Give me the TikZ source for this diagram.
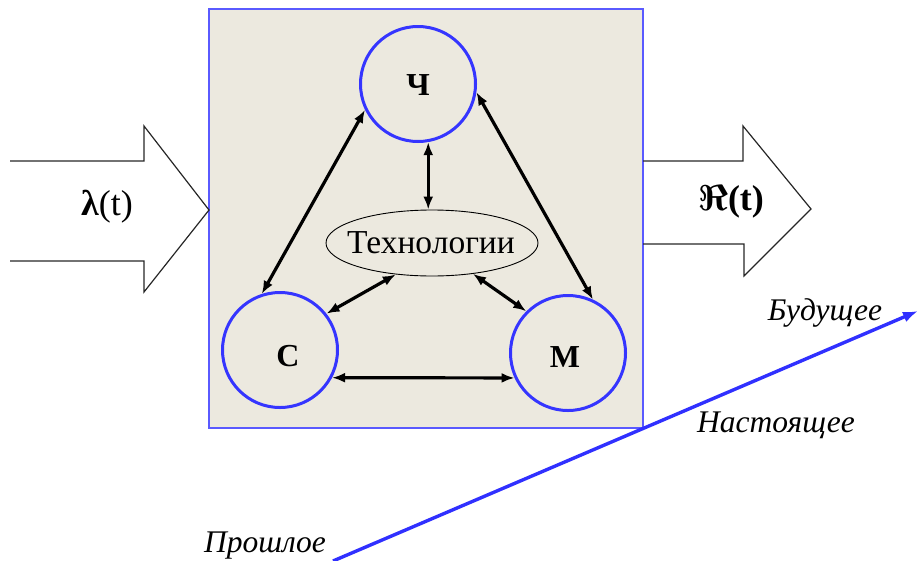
\documentclass[tikz,border=0pt]{standalone}
\usepackage{fontspec}
\setmainfont{Liberation Serif}
\usetikzlibrary{arrows.meta,calc,shapes.geometric}
\definecolor{panel}{HTML}{ECE9DF}
\definecolor{rim}{HTML}{3535FF}
\definecolor{frameblue}{HTML}{5A5AFF}
\definecolor{timeblue}{HTML}{3030FF}
\begin{document}
\begin{tikzpicture}[x=1pt,y=-1pt,
  circ/.style={circle, draw=rim, line width=3pt, minimum size=115pt, inner sep=0pt},
  letter/.style={font=\bfseries\fontsize{32}{36}\selectfont, anchor=base, inner sep=0pt},
  link/.style={line width=3.2pt, {Latex[length=13pt,width=10pt]}-{Latex[length=13pt,width=10pt]}},
  block/.style={draw=black!85, line width=1.2pt, line join=miter},
  era/.style={font=\itshape\fontsize{31.5}{36}\selectfont, anchor=base, inner sep=0pt},
  flow/.style={font=\fontsize{36}{40}\selectfont, anchor=base, inner sep=0pt},
  ]
\useasboundingbox (0,0) rectangle (918,560);

% system panel
\node[draw=frameblue, fill=panel, line width=1.8pt, minimum width=434pt, minimum height=419pt,
      inner sep=0pt] (sys) at (426,218.5) {};

% input block arrow
\draw[block] (10,161) -- (144,161) -- (144,126) -- (209,210) -- (144,292) -- (144,261) -- (10,261);
\node[flow] (lam) at (107,215) {{\bfseries λ}(t)};

% output block arrow (the math symbol font stops at 25pt, so the sign is scaled)
\draw[block] (643,161) -- (743,161) -- (743,126) -- (811,209) -- (744,276) -- (744,244) -- (643,244);
\node[flow] (res) at (731,210) {\scalebox{1.45}{\boldmath$\Re$}{\bfseries(t)}};

% three elements and the technology core
\node[circ] (ch) at (418,84) {};
\node[circ] (c) at (280,350) {};
\node[circ] (m) at (568,353) {};
\node[letter] (chl) at (418,95) {Ч};
\node[letter] (cl) at (288,366) {С};
\node[letter] (ml) at (565,367) {М};

\node[ellipse, draw=black, line width=0.9pt, minimum width=212pt, minimum height=66pt,
      inner sep=0pt] (tech) at (432,243) {};
\node[font=\fontsize{33.5}{38}\selectfont, anchor=base, inner sep=0pt] (techtext) at (431,253) {Технологии};

% links
\draw[link] (ch.206) -- (c.108);
\draw[link] (ch.-8) -- (m.65);
\draw[link] (ch.-80) -- (ch.-80 |- tech.north);
\draw[link] (tech.221) -- (c.38);
\draw[link] (tech.-37) -- (m.135);
\draw[link] (c.-28) -- (m.205);

% time axis
\coordinate (past) at (333,561);
\coordinate (future) at (918,311);
\draw[timeblue, line width=3.4pt, -{Latex[length=15pt,width=11pt]}] (past) -- (future);
\node[era] (fut) at (825,320) {Будущее};
\node[era] (now) at (776,432) {Настоящее};
\node[era] (was) at (265,552) {Прошлое};
\end{tikzpicture}
\end{document}
